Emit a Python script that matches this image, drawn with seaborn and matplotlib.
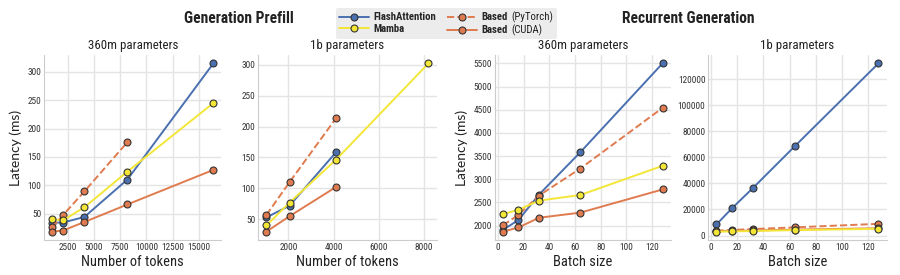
import numpy as np
import pandas as pd
import matplotlib
matplotlib.use("Agg")
import matplotlib.pyplot as plt
from matplotlib import font_manager
from matplotlib.offsetbox import TextArea
import seaborn as sns
from matplotlib.lines import Line2D

# ---------------- data ----------------
tokens_360m = [1024, 2048, 4096, 8192, 16384]
prefill_360m_flash = [34, 34, 44, 110, 315]
prefill_360m_mamba = [40, 38, 61, 124, 245]
prefill_360m_pytorch_x = [1024, 2048, 4096, 8192]
prefill_360m_pytorch = [26, 47, 89, 176]
prefill_360m_cuda = [18, 20, 35, 66, 127]

tokens_1b = [1024, 2048, 4096]
tokens_1b_mamba = [1024, 2048, 4096, 8192]
prefill_1b_flash = [53, 72, 158]
prefill_1b_mamba = [40, 77, 146, 302]
prefill_1b_pytorch = [57, 110, 213]
prefill_1b_cuda = [30, 55, 102]

batch = [4, 16, 32, 64, 128]
rec_360m_flash = [1910, 2120, 2670, 3580, 5500]
rec_360m_mamba = [2250, 2340, 2540, 2660, 3290]
rec_360m_pytorch = [2010, 2230, 2650, 3230, 4540]
rec_360m_cuda = [1870, 1960, 2170, 2280, 2780]

rec_1b_flash = [8500, 21000, 36500, 68500, 132000]
rec_1b_mamba = [3000, 3200, 3500, 4200, 5200]
rec_1b_pytorch = [3800, 4300, 5000, 6300, 9000]
rec_1b_cuda = [3300, 3600, 3900, 4600, 5600]

legend_bold = ["FlashAttention", "Mamba", "Based", "Based"]
legend_suffix = ["", "", "(PyTorch)", "(CUDA)"]

# ---------------- style ----------------
sns.set_theme(style="whitegrid")
available = {f.name for f in font_manager.fontManager.ttflist}
narrow_pref = ["Liberation Sans Narrow", "Roboto Condensed", "Open Sans Condensed",
               "Noto Sans Condensed", "Noto Sans ExtraCondensed", "DejaVu Sans Condensed"]
NARROW = next((n for n in narrow_pref if n in available), "Roboto")
IS_NARROW = NARROW != "Roboto"
REG = "Lato" if "Lato" in available else "DejaVu Sans"
plt.rcParams['font.family'] = [NARROW, 'DejaVu Sans']
plt.rcParams['grid.color'] = '#e4e4e4'

k = 1.12 if IS_NARROW else 1.0

BLUE = "#4a70b0"
YELLOW = "#f3e637"
ORANGE = "#e07b4f"
EDGE = "#333333"

fig = plt.figure(figsize=(9, 2.75), dpi=100)
bottom, height = 0.127, 0.673
axes = [
    fig.add_axes([0.049, bottom, 0.197, height]),
    fig.add_axes([0.287, bottom, 0.198, height]),
    fig.add_axes([0.550, bottom, 0.195, height]),
    fig.add_axes([0.787, bottom, 0.198, height]),
]

def draw(ax, x, y, color, ls="-"):
    sns.lineplot(x=x, y=y, ax=ax, color=color, linestyle=ls, linewidth=1.4,
                 marker="o", markersize=5, markeredgecolor=EDGE,
                 markeredgewidth=0.8, markerfacecolor=color)

panels = [
    (tokens_360m, prefill_360m_flash, tokens_360m, prefill_360m_mamba,
     prefill_360m_pytorch_x, prefill_360m_pytorch, tokens_360m, prefill_360m_cuda),
    (tokens_1b, prefill_1b_flash, tokens_1b_mamba, prefill_1b_mamba,
     tokens_1b, prefill_1b_pytorch, tokens_1b, prefill_1b_cuda),
    (batch, rec_360m_flash, batch, rec_360m_mamba,
     batch, rec_360m_pytorch, batch, rec_360m_cuda),
    (batch, rec_1b_flash, batch, rec_1b_mamba,
     batch, rec_1b_pytorch, batch, rec_1b_cuda),
]
titles = ["360m parameters", "1b parameters", "360m parameters", "1b parameters"]
xlabels = ["Number of tokens", "Number of tokens", "Batch size", "Batch size"]

for i, (ax, p) in enumerate(zip(axes, panels)):
    xf, yf, xm, ym, xp, yp, xc, yc = p
    draw(ax, xf, yf, BLUE)
    draw(ax, xp, yp, ORANGE, "--")
    draw(ax, xc, yc, ORANGE)
    draw(ax, xm, ym, YELLOW)
    ax.set_title(titles[i], fontsize=8.3 * k, pad=4, color="#222222")
    ax.set_xlabel(xlabels[i], fontsize=9.3 * k, labelpad=2, color="#222222")
    if i in (0, 2):
        ax.set_ylabel("Latency (ms)", fontsize=10, family=REG, labelpad=4,
                      color="#222222")
    else:
        ax.set_ylabel("")
    ax.tick_params(axis="both", labelsize=6 * k, pad=2, length=0, labelcolor="#333333")
    sns.despine(ax=ax)
    for s in ("left", "bottom"):
        ax.spines[s].set_color("#cccccc")
        ax.spines[s].set_linewidth(0.8)
    ax.ticklabel_format(style="plain", useOffset=False)

axes[0].set_xticks([2500, 5000, 7500, 10000, 12500, 15000])
axes[0].set_yticks([50, 100, 150, 200, 250, 300])
axes[1].set_xticks([2000, 4000, 6000, 8000])
axes[1].set_yticks([50, 100, 150, 200, 250, 300])
axes[2].set_xticks([0, 20, 40, 60, 80, 100, 120])
axes[2].set_yticks([2000, 2500, 3000, 3500, 4000, 4500, 5000, 5500])
axes[3].set_xticks([0, 20, 40, 60, 80, 100, 120])
axes[3].set_yticks([0, 20000, 40000, 60000, 80000, 100000, 120000])

fig.text(0.265, 0.932, "Generation Prefill", ha="center", va="center",
         fontsize=10 * k, fontweight="bold", color="#222222")
fig.text(0.765, 0.932, "Recurrent Generation", ha="center", va="center",
         fontsize=10 * k, fontweight="bold", color="#222222")

# ---------------- legend ----------------
LEG_FS = 6.9 * k

def handle(color, ls="-"):
    return Line2D([0], [0], color=color, linestyle=ls, linewidth=1.4, marker="o",
                  markersize=5, markeredgecolor=EDGE, markeredgewidth=0.8,
                  markerfacecolor=color)

handles = [handle(BLUE), handle(YELLOW), handle(ORANGE, "--"), handle(ORANGE)]

leg = fig.legend(handles, legend_bold, loc="upper center", bbox_to_anchor=(0.496, 0.99),
                 ncol=2, prop={"size": LEG_FS, "weight": "bold"}, frameon=True,
                 facecolor="#ececec", edgecolor="none", handlelength=2.8,
                 handletextpad=0.4, columnspacing=1.0, labelspacing=0.15,
                 borderpad=0.3, framealpha=1.0)

# append the regular-weight suffix "(PyTorch)" / "(CUDA)" inside each legend row
rows = [row for col in leg._legend_handle_box.get_children()
        for row in col.get_children()]
for row, sfx in zip(rows, legend_suffix):
    if sfx:
        ta = TextArea(sfx, textprops=dict(fontsize=LEG_FS, fontweight="normal",
                                          color="#222222"))
        ta.set_figure(fig)
        row.get_children().append(ta)

fig.savefig("out.png", dpi=100)
